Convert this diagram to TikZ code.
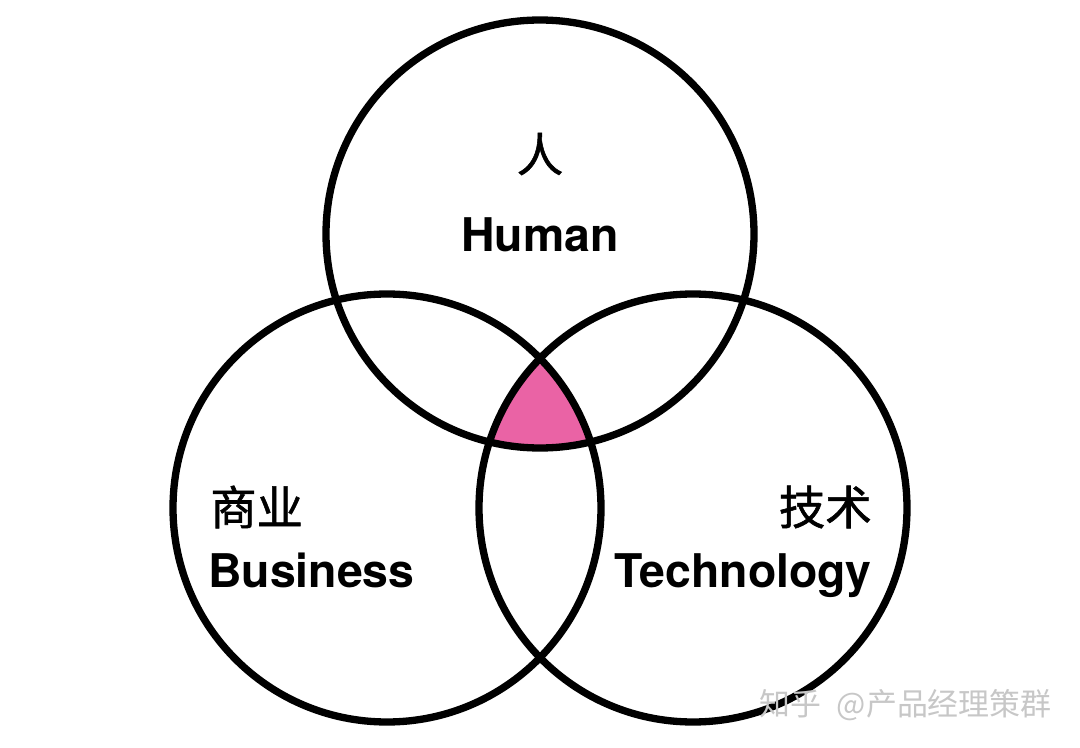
\documentclass[tikz,border=0pt]{standalone}
\usepackage{fontspec}
\setsansfont{TeX Gyre Heros}
\newfontfamily\cjk[FakeBold=1.2]{Noto Sans CJK SC}
\newfontfamily\cjkmark{Noto Sans CJK SC}
\usetikzlibrary{math}
\definecolor{vennpink}{RGB}{234,99,165}
\tikzset{
  ring/.style={draw=black, line width=5.2pt},
  cjklabel/.style={inner sep=0pt, font=\cjk\fontsize{33}{33}\selectfont},
  enlabel/.style={inner sep=0pt, font=\sffamily\bfseries\fontsize{33}{33}\selectfont},
  watermark/.style={inner sep=0pt, text=black!22, font=\cjkmark\fontsize{22}{22}\selectfont}
}

\begin{document}
\begin{tikzpicture}[x=0.025cm, y=-0.025cm]
      \tikzmath{\r = 214; \tx = 540; \ty = 234; \lx = 387; \rx = 693; \by = 508;}
      \useasboundingbox (0,0) rectangle (1080,748);
      \coordinate (human) at (\tx,\ty);
      \coordinate (business) at (\lx,\by);
      \coordinate (tech) at (\rx,\by);
      % common part of the three sets
      \begin{scope}
        \clip (human) circle (\r);
        \clip (business) circle (\r);
        \fill[vennpink] (tech) circle (\r);
      \end{scope}
      \path [ring] (human) circle (\r);
      \path [ring] (business) circle (\r);
      \path [ring] (tech) circle (\r);
      \node[cjklabel] (humancn) at (\tx,154) {人};
      \node[enlabel, anchor=base] (humanen) at (\tx,252) {Human};
      \node[cjklabel, anchor=west] (businesscn) at (210,507) {商业};
      \node[enlabel, anchor=base west] (businessen) at (208,587) {Business};
      \node[cjklabel, anchor=east] (techcn) at (872,507) {技术};
      \node[enlabel, anchor=base east] (techen) at (872,587) {Technology};
      \node[watermark, anchor=east] (mark) at (1052,705) {知乎\enspace@产品经理策群};
\end{tikzpicture}
\end{document}
